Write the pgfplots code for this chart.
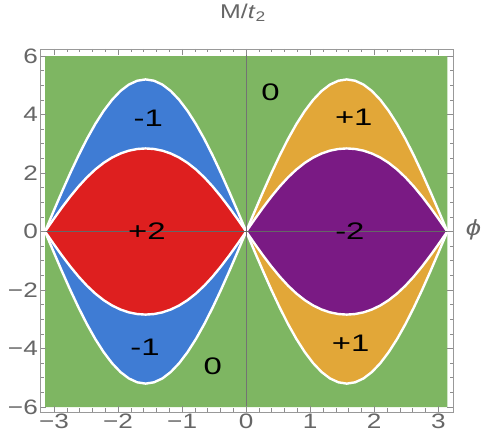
\documentclass[border=0pt]{standalone}
\usepackage{fontspec}
\setmainfont{Liberation Sans}[FakeStretch=1.25]
\usepackage{pgfplots}
\usepackage{pgfplotstable}
\pgfplotsset{compat=1.18}
\usepgfplotslibrary{fillbetween}

\definecolor{cgreen}{RGB}{126,182,98}
\definecolor{cblue}{RGB}{63,124,212}
\definecolor{cred}{RGB}{222,31,31}
\definecolor{cpurple}{RGB}{122,26,132}
\definecolor{corange}{RGB}{226,167,56}

% phase boundaries, phi < 0
\pgfplotstableread{
phi     oup    olo     iup    ilo
-3.1416 0.000  0.000   0.000  0.000
-3.0107 0.679 -0.679   0.412 -0.412
-2.8798 1.346 -1.346   0.813 -0.813
-2.7489 1.990 -1.990   1.191 -1.191
-2.6180 2.600 -2.600   1.540 -1.540
-2.4871 3.166 -3.166   1.852 -1.852
-2.3562 3.677 -3.677   2.122 -2.122
-2.2253 4.125 -4.125   2.348 -2.348
-2.0944 4.503 -4.503   2.529 -2.529
-1.9635 4.804 -4.804   2.667 -2.667
-1.8326 5.023 -5.023   2.764 -2.764
-1.7017 5.155 -5.155   2.821 -2.821
-1.5708 5.200 -5.200   2.840 -2.840
-1.4399 5.155 -5.155   2.821 -2.821
-1.3090 5.023 -5.023   2.764 -2.764
-1.1781 4.804 -4.804   2.667 -2.667
-1.0472 4.503 -4.503   2.529 -2.529
-0.9163 4.125 -4.125   2.348 -2.348
-0.7854 3.677 -3.677   2.122 -2.122
-0.6545 3.166 -3.166   1.852 -1.852
-0.5236 2.600 -2.600   1.540 -1.540
-0.3927 1.990 -1.990   1.191 -1.191
-0.2618 1.346 -1.346   0.813 -0.813
-0.1309 0.679 -0.679   0.412 -0.412
 0.0000 0.000  0.000   0.000  0.000
}\lobeL

% phi > 0
\pgfplotstableread{
phi     oup    olo     iup    ilo
0.0000  0.000  0.000   0.000  0.000
0.1309  0.679 -0.679   0.412 -0.412
0.2618  1.346 -1.346   0.813 -0.813
0.3927  1.990 -1.990   1.191 -1.191
0.5236  2.600 -2.600   1.540 -1.540
0.6545  3.166 -3.166   1.852 -1.852
0.7854  3.677 -3.677   2.122 -2.122
0.9163  4.125 -4.125   2.348 -2.348
1.0472  4.503 -4.503   2.529 -2.529
1.1781  4.804 -4.804   2.667 -2.667
1.3090  5.023 -5.023   2.764 -2.764
1.4399  5.155 -5.155   2.821 -2.821
1.5708  5.200 -5.200   2.840 -2.840
1.7017  5.155 -5.155   2.821 -2.821
1.8326  5.023 -5.023   2.764 -2.764
1.9635  4.804 -4.804   2.667 -2.667
2.0944  4.503 -4.503   2.529 -2.529
2.2253  4.125 -4.125   2.348 -2.348
2.3562  3.677 -3.677   2.122 -2.122
2.4871  3.166 -3.166   1.852 -1.852
2.6180  2.600 -2.600   1.540 -1.540
2.7489  1.990 -1.990   1.191 -1.191
2.8798  1.346 -1.346   0.813 -0.813
3.0107  0.679 -0.679   0.412 -0.412
3.1416  0.000  0.000   0.000  0.000
}\lobeR

\pgfplotsset{wline/.style={white, line width=2.4bp, line join=round}}
\tikzset{phase/.style={font=\fontsize{24}{26}\selectfont, xscale=1.1}}

\begin{document}
\begin{tikzpicture}
\begin{axis}[
  scale only axis,
  width=413bp,
  height=363bp,
  xmin=-3.22, xmax=3.23,
  ymin=-6.17, ymax=6.24,
  axis line style={draw=black!40, line width=0.8bp},
  xtick={-3,-2,-1,0,1,2,3},
  xticklabels={−3,−2,−1,0,1,2,3},
  ytick={-6,-4,-2,0,2,4,6},
  yticklabels={−6,−4,−2,0,2,4,6},
  minor x tick num=4,
  minor y tick num=3,
  tick align=inside,
  major tick length=6bp,
  minor tick length=3.5bp,
  tick style={draw=black!45, line width=0.6bp},
  tick label style={font=\fontsize{21}{22}\selectfont, text=black!60, inner sep=2bp},
  fill between/on layer=main,
  axis on top,
  clip=false
]
% background phase 0
\addplot[fill=cgreen, draw=none] coordinates {(-3.1416,-6) (3.1416,-6) (3.1416,6) (-3.1416,6) (-3.1416,-6)};

% left lobe
\addplot[draw=none, name path=lou] table[x=phi,y=oup]{\lobeL};
\addplot[draw=none, name path=lol] table[x=phi,y=olo]{\lobeL};
\addplot[draw=none, name path=liu] table[x=phi,y=iup]{\lobeL};
\addplot[draw=none, name path=lil] table[x=phi,y=ilo]{\lobeL};
\addplot[fill=cblue, draw=none] fill between[of=lou and lol];
\addplot[fill=cred, draw=none] fill between[of=liu and lil];

% right lobe
\addplot[draw=none, name path=rou] table[x=phi,y=oup]{\lobeR};
\addplot[draw=none, name path=rol] table[x=phi,y=olo]{\lobeR};
\addplot[draw=none, name path=riu] table[x=phi,y=iup]{\lobeR};
\addplot[draw=none, name path=ril] table[x=phi,y=ilo]{\lobeR};
\addplot[fill=corange, draw=none] fill between[of=rou and rol];
\addplot[fill=cpurple, draw=none] fill between[of=riu and ril];

% white boundaries
\addplot[wline] table[x=phi,y=oup]{\lobeL};
\addplot[wline] table[x=phi,y=olo]{\lobeL};
\addplot[wline] table[x=phi,y=iup]{\lobeL};
\addplot[wline] table[x=phi,y=ilo]{\lobeL};
\addplot[wline] table[x=phi,y=oup]{\lobeR};
\addplot[wline] table[x=phi,y=olo]{\lobeR};
\addplot[wline] table[x=phi,y=iup]{\lobeR};
\addplot[wline] table[x=phi,y=ilo]{\lobeR};

% axes through the origin
\addplot[black!55, line width=0.7bp] coordinates {(0,-6.17) (0,6.24)};
\addplot[black!60, line width=0.7bp] coordinates {(-3.22,0) (3.23,0)};

% phase labels
\node[phase] at (axis cs:-1.53,3.88) {-1};
\node[phase] at (axis cs:-1.55,0) {+2};
\node[phase] at (axis cs:-1.58,-3.95) {-1};
\node[phase] at (axis cs:-0.52,-4.6) {0};
\node[phase] at (axis cs:0.38,4.77) {0};
\node[phase] at (axis cs:1.68,3.91) {+1};
\node[phase] at (axis cs:1.62,0) {-2};
\node[phase] at (axis cs:1.63,-3.81) {+1};

\node[font=\fontsize{20}{22}\selectfont, text=black!60] at (axis cs:-0.05,7.47) {M/\textit{t}\textsubscript{2}};
\node[font=\fontsize{22}{24}\selectfont, text=black!60] at (axis cs:3.55,0.05) {\textit{ϕ}};
\end{axis}
\pgfresetboundingbox
\path[use as bounding box] (-40bp,-35bp) rectangle (443bp,412bp);
\end{tikzpicture}
\end{document}
